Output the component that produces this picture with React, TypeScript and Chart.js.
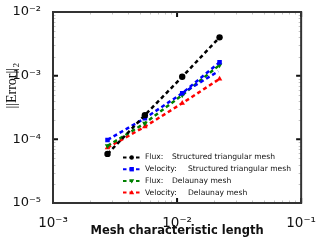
import React, { useEffect, useRef } from "react";
import { Chart, registerables } from "chart.js";
Chart.register(...registerables);

const meshLength = [0.00275, 0.0055, 0.011, 0.022];
const fluxStructured = [5.9e-5, 2.4e-4, 9.6e-4, 4.0e-3];
const velocityStructured = [9.8e-5, 2.14e-4, 5.3e-4, 1.62e-3];
const fluxDelaunay = [7.9e-5, 1.79e-4, 4.97e-4, 1.47e-3];
const velocityDelaunay = [7.4e-5, 1.58e-4, 3.69e-4, 8.9e-4];
const blueGuideX = [0.011, 0.0215];
const blueGuideY = [5.3e-4, 1.17e-3];

const xTicks = [1e-3, 1e-2, 1e-1];
const xTickLabels = ["10⁻³", "10⁻²", "10⁻¹"];
const yTicks = [1e-5, 1e-4, 1e-3, 1e-2];
const yTickLabels = ["10⁻⁵", "10⁻⁴", "10⁻³", "10⁻²"];

const legendPrefix = ["Flux:", "Velocity:", "Flux:", "Velocity:"];
const legendSuffix = [
  "Structured triangular mesh",
  "Structured triangular mesh",
  "Delaunay mesh",
  "Delaunay mesh",
];

const colors = ["#000000", "#0000ff", "#008000", "#ff0000"];
const pointStyles = ["circle", "rect", "triangle", "triangle"];
const rotations = [0, 0, 180, 0];

const toPoints = (xs: number[], ys: number[]) => xs.map((x, i) => ({ x, y: ys[i] }));

function drawMarker(ctx: CanvasRenderingContext2D, style: string, rot: number, x: number, y: number, r: number) {
  ctx.beginPath();
  if (style === "circle") {
    ctx.arc(x, y, r, 0, Math.PI * 2);
  } else if (style === "rect") {
    ctx.rect(x - r, y - r, 2 * r, 2 * r);
  } else {
    const s = rot === 180 ? -1 : 1;
    ctx.moveTo(x, y - s * r * 1.2);
    ctx.lineTo(x - r * 1.15, y + s * r * 0.8);
    ctx.lineTo(x + r * 1.15, y + s * r * 0.8);
    ctx.closePath();
  }
  ctx.fill();
}

export default function App() {
  const ref = useRef<HTMLCanvasElement | null>(null);
  useEffect(() => {
    document.body.style.margin = "0";
    const canvas = ref.current!;
    const series = [fluxStructured, velocityStructured, fluxDelaunay, velocityDelaunay];
    const datasets: any[] = series.map((ys, i) => ({
      label: legendPrefix[i] + " " + legendSuffix[i],
      data: toPoints(meshLength, ys),
      borderColor: colors[i],
      backgroundColor: colors[i],
      borderWidth: 2.5,
      borderDash: [4, 3],
      pointStyle: pointStyles[i],
      pointRotation: rotations[i],
      pointRadius: 3.2,
      pointBorderWidth: 0,
      showLine: true,
      fill: false,
    }));
    datasets.splice(1, 0, {
      label: "guide",
      data: toPoints(blueGuideX, blueGuideY),
      borderColor: colors[1],
      backgroundColor: colors[1],
      borderWidth: 2.5,
      borderDash: [4, 3],
      pointRadius: 0,
      showLine: true,
      fill: false,
    });

    const framePlugin = {
      id: "frame",
      afterDraw(chart: any) {
        const { ctx, chartArea, scales } = chart;
        const { left, right, top, bottom } = chartArea;
        const x = scales.x;
        const y = scales.y;
        ctx.save();
        // minor ticks
        ctx.strokeStyle = "#c4c4c4";
        ctx.lineWidth = 1;
        for (let d = 0; d < xTicks.length - 1; d++) {
          for (let k = 2; k <= 9; k++) {
            const px = Math.round(x.getPixelForValue(xTicks[d] * k)) + 0.5;
            ctx.beginPath();
            ctx.moveTo(px, bottom);
            ctx.lineTo(px, bottom - 2.5);
            ctx.moveTo(px, top);
            ctx.lineTo(px, top + 2.5);
            ctx.stroke();
          }
        }
        for (let d = 0; d < yTicks.length - 1; d++) {
          for (let k = 2; k <= 9; k++) {
            const py = Math.round(y.getPixelForValue(yTicks[d] * k)) + 0.5;
            ctx.beginPath();
            ctx.moveTo(left, py);
            ctx.lineTo(left + 2.5, py);
            ctx.moveTo(right, py);
            ctx.lineTo(right - 2.5, py);
            ctx.stroke();
          }
        }
        // major ticks
        ctx.strokeStyle = "#111";
        ctx.lineWidth = 2;
        xTicks.forEach((v) => {
          const px = x.getPixelForValue(v);
          ctx.beginPath();
          ctx.moveTo(px, bottom);
          ctx.lineTo(px, bottom - 5);
          ctx.moveTo(px, top);
          ctx.lineTo(px, top + 5);
          ctx.stroke();
        });
        yTicks.forEach((v) => {
          const py = y.getPixelForValue(v);
          ctx.beginPath();
          ctx.moveTo(left, py);
          ctx.lineTo(left + 5, py);
          ctx.moveTo(right, py);
          ctx.lineTo(right - 5, py);
          ctx.stroke();
        });
        // frame
        ctx.strokeStyle = "#333";
        ctx.lineWidth = 2;
        ctx.strokeRect(left, top, right - left, bottom - top);

        // y title
        ctx.save();
        ctx.translate(12.5, 86);
        ctx.rotate(-Math.PI / 2);
        ctx.fillStyle = "#111";
        ctx.textBaseline = "middle";
        ctx.font = "14px 'Liberation Serif'";
        const main = "||Error||";
        const mw = ctx.measureText(main).width;
        ctx.font = "9px 'Liberation Serif'";
        const sw = ctx.measureText("2").width;
        const start = -(mw + sw) / 2;
        ctx.font = "14px 'Liberation Serif'";
        ctx.textAlign = "left";
        ctx.fillText(main, start, 0);
        ctx.font = "9px 'Liberation Serif'";
        ctx.fillText("2", start + mw + 0.5, 4);
        ctx.restore();

        // legend
        const legendSets = [0, 2, 3, 4];
        ctx.font = "7.6px 'DejaVu Sans'";
        ctx.textBaseline = "middle";
        ctx.textAlign = "left";
        legendSets.forEach((di, i) => {
          const ds = chart.data.datasets[di];
          const ly = 157.5 + i * 11.7;
          ctx.save();
          ctx.strokeStyle = ds.borderColor;
          ctx.lineWidth = 2;
          ctx.setLineDash([3.5, 3]);
          ctx.beginPath();
          ctx.moveTo(123, ly);
          ctx.lineTo(140.5, ly);
          ctx.stroke();
          ctx.restore();
          ctx.save();
          ctx.fillStyle = ds.backgroundColor;
          drawMarker(ctx, ds.pointStyle, ds.pointRotation, 131.7, ly, 2.2);
          ctx.restore();
          ctx.fillStyle = "#111";
          ctx.fillText(legendPrefix[i], 145, ly);
          ctx.fillText(legendSuffix[i], i % 2 === 0 ? 172 : 188, ly);
        });
        ctx.restore();
      },
    };

    const chart = new Chart(canvas, {
      type: "scatter",
      data: { datasets },
      options: {
        responsive: false,
        animation: false,
        layout: { padding: { top: 12, right: 18, left: 0, bottom: 0 } },
        plugins: { legend: { display: false }, tooltip: { enabled: false } },
        scales: {
          x: {
            type: "logarithmic",
            min: 1e-3,
            max: 1e-1,
            grid: { display: false },
            border: { display: false },
            afterBuildTicks: (s: any) => {
              s.ticks = xTicks.map((v) => ({ value: v }));
            },
            afterFit: (s: any) => {
              s.height = 38;
            },
            ticks: {
              autoSkip: false,
              maxRotation: 0,
              padding: 4,
              color: "#111",
              font: { family: "'DejaVu Sans'", size: 13.5 },
              callback: (_v: any, i: number) => xTickLabels[i],
            },
            title: {
              display: true,
              text: "Mesh characteristic length",
              color: "#111",
              font: { family: "'DejaVu Sans'", size: 11.5, weight: "bold" },
              padding: { top: 0, bottom: 3 },
            },
          },
          y: {
            type: "logarithmic",
            min: 1e-5,
            max: 1e-2,
            grid: { display: false },
            border: { display: false },
            afterBuildTicks: (s: any) => {
              s.ticks = yTicks.map((v) => ({ value: v }));
            },
            afterFit: (s: any) => {
              s.width = 53;
            },
            ticks: {
              autoSkip: false,
              padding: 4,
              color: "#111",
              font: { family: "'DejaVu Sans'", size: 13 },
              callback: (_v: any, i: number) => yTickLabels[i],
            },
          },
        },
      },
      plugins: [framePlugin],
    } as any);
    return () => chart.destroy();
  }, []);
  return (
    <div style={{ position: "absolute", left: 0, top: 0, width: 320, height: 241 }}>
      <canvas ref={ref} width={320} height={241} />
    </div>
  );
}
